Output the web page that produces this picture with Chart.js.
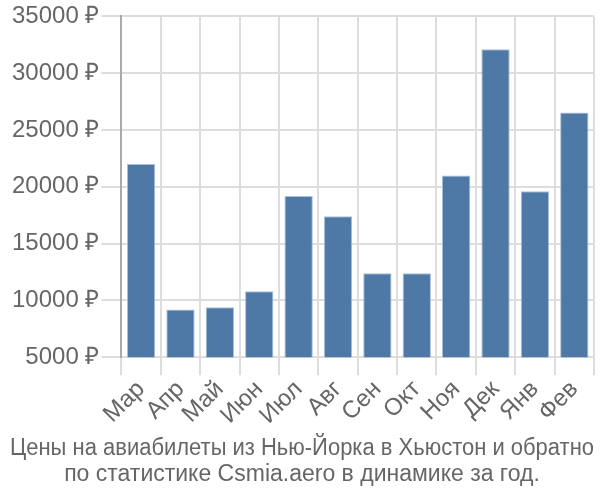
<!DOCTYPE html>
<html><head><meta charset="utf-8">
<script src="https://cdn.jsdelivr.net/npm/chart.js@4"></script>
<style>html,body{margin:0;padding:0;background:#fff}#w{width:600px;height:500px}</style>
</head><body><div id="w"><canvas id="c"></canvas></div>
<script>
const categories = ["Мар","Апр","Май","Июн","Июл","Авг","Сен","Окт","Ноя","Дек","Янв","Фев"];
const prices = [22000, 9200, 9400, 10800, 19200, 17400, 12400, 12400, 21000, 32100, 19600, 26550];
const titleLines = ["Цены на авиабилеты из Нью-Йорка в Хьюстон и обратно","по статистике Csmia.aero в динамике за год."];
const currency = " ₽";

new Chart(document.getElementById('c'), {
  type: 'bar',
  data: { labels: categories, datasets: [{ data: prices, backgroundColor: '#4e79a7', borderColor: '#a9c0d8', borderWidth: 1, barPercentage: 0.72, categoryPercentage: 1 }] },
  options: {
    responsive: true, maintainAspectRatio: false, animation: false,
    layout: { padding: { top: 2, right: 6, left: 10, bottom: 0 } },
    plugins: {
      legend: { display: false },
      tooltip: { enabled: false },
      title: { display: true, position: 'bottom', text: titleLines, color: '#666', font: { family: 'Liberation Sans', size: 23, weight: 'normal', lineHeight: 1.13 }, padding: { top: 6, bottom: 12 } }
    },
    scales: {
      x: {
        grid: { color: '#ddd', lineWidth: 2, offset: true, tickLength: 18 },
        border: { color: '#ddd', width: 2 },
        ticks: { color: '#666', font: { family: 'Liberation Sans', size: 24 }, minRotation: 45, maxRotation: 45, autoSkip: false, padding: 0 }
      },
      y: {
        min: 5000, max: 35000,
        grid: { color: '#ddd', lineWidth: 2, tickLength: 20 },
        border: { color: '#aaa', width: 2 },
        ticks: { stepSize: 5000, color: '#666', font: { family: 'Liberation Sans', size: 24 }, padding: 2, callback: v => v + currency }
      }
    }
  }
});
</script></body></html>
